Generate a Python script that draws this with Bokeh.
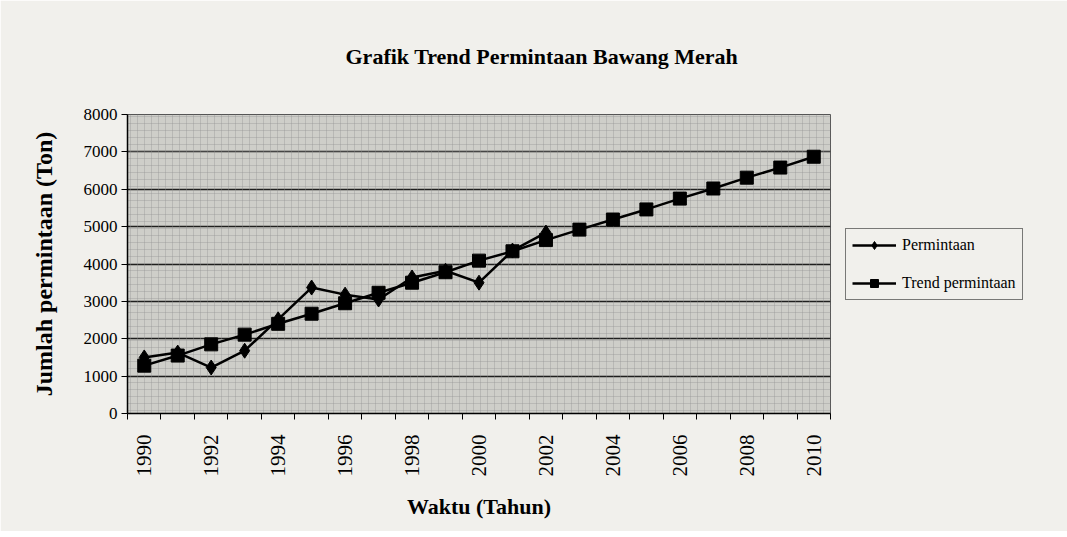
from bokeh.plotting import figure
from bokeh.models import FixedTicker, Legend, LegendItem, BoxAnnotation
from bokeh.embed import file_html
from bokeh.resources import INLINE

# ---- data ----
years = list(range(1990, 2011))
permintaan_years = list(range(1990, 2003))
permintaan = [1500, 1630, 1230, 1680, 2520, 3370, 3180, 3050, 3640, 3820, 3500, 4360, 4840]
trend = [1280, 1550, 1850, 2110, 2400, 2670, 2950, 3230, 3500, 3780, 4090, 4340,
         4640, 4920, 5190, 5460, 5750, 6020, 6310, 6580, 6870]
label_years = years[::2]
y_ticks = list(range(0, 8001, 1000))

FONT = "Liberation Serif"
PAGE_BG = "#f1f0ec"

p = figure(frame_width=703, frame_height=299, output_backend="svg", toolbar_location=None,
           x_range=(years[0] - 0.5, years[-1] + 0.5), y_range=(y_ticks[0], y_ticks[-1]),
           min_border_left=127, min_border_right=10, min_border_top=112, min_border_bottom=118)
p.background_fill_color = "#cecec9"
p.border_fill_color = PAGE_BG
p.outline_line_color = "#555555"
p.outline_line_width = 1

p.title.text = "Grafik Trend Permintaan Bawang Merah"
p.title.text_font = FONT
p.title.text_font_size = "22px"
p.title.text_font_style = "bold"
p.title.text_color = "black"
p.title.align = "left"
p.title.vertical_align = "top"
p.title.offset = 218
p.title.standoff = 87

# dotted texture of plot area
p.add_layout(BoxAnnotation(fill_alpha=0, line_alpha=0, hatch_pattern="+",
                           hatch_color="#8f8f8f", hatch_alpha=0.35, hatch_scale=7,
                           hatch_weight=1, level="underlay"))

# axes
p.xaxis.ticker = FixedTicker(ticks=label_years,
                             minor_ticks=[y - 0.5 for y in years] + [years[-1] + 0.5])
p.xaxis.major_label_orientation = 3.14159265 / 2
p.xaxis.major_tick_line_color = None
p.xaxis.major_tick_out = 6
p.xaxis.major_tick_in = 0
p.xaxis.minor_tick_out = 6
p.xaxis.minor_tick_in = 0
p.xaxis.minor_tick_line_color = "black"
p.xaxis.major_label_standoff = 15
p.xaxis.major_label_text_font_size = "21px"
p.xaxis.axis_label = "Waktu (Tahun)"
p.xaxis.axis_label_standoff = 14
p.xaxis.axis_label_text_font_size = "22px"

p.yaxis.ticker = FixedTicker(ticks=y_ticks)
p.yaxis.major_tick_out = 6
p.yaxis.major_tick_in = 0
p.yaxis.minor_tick_line_color = None
p.yaxis.major_label_standoff = 4
p.yaxis.major_label_text_font_size = "17px"
p.yaxis.axis_label = "Jumlah permintaan (Ton)"
p.yaxis.axis_label_standoff = 24
p.yaxis.axis_label_text_font_size = "24px"

for ax in (p.xaxis, p.yaxis):
    ax.axis_line_color = "black"
    ax.axis_line_width = 1.5
    ax.major_label_text_font = FONT
    ax.major_label_text_color = "black"
    ax.axis_label_text_font = FONT
    ax.axis_label_text_font_style = "bold"
    ax.axis_label_text_color = "black"

p.xgrid.grid_line_color = None
p.ygrid.grid_line_color = "black"
p.ygrid.grid_line_width = 1.5
p.ygrid.grid_line_alpha = 0.85

# series
l1 = p.line(permintaan_years, permintaan, line_color="black", line_width=2.5)
m1 = p.scatter(permintaan_years, permintaan, marker="diamond", size=15,
               fill_color="black", line_color="black")
l2 = p.line(years, trend, line_color="black", line_width=2.5)
m2 = p.scatter(years, trend, marker="square", size=13,
               fill_color="black", line_color="black")

legend = Legend(items=[LegendItem(label="Permintaan", renderers=[l1, m1]),
                       LegendItem(label="Trend permintaan", renderers=[l2, m2])],
                location="center_left")
legend.margin = 15
legend.label_text_font = FONT
legend.label_text_font_size = "16px"
legend.label_text_color = "black"
legend.glyph_width = 44
legend.glyph_height = 20
legend.spacing = 18
legend.padding = 6
legend.label_standoff = 6
legend.border_line_color = "black"
legend.border_line_width = 1.5
legend.background_fill_color = PAGE_BG
legend.background_fill_alpha = 1
p.add_layout(legend, "right")

open("out.html", "w").write(file_html(p, INLINE))
